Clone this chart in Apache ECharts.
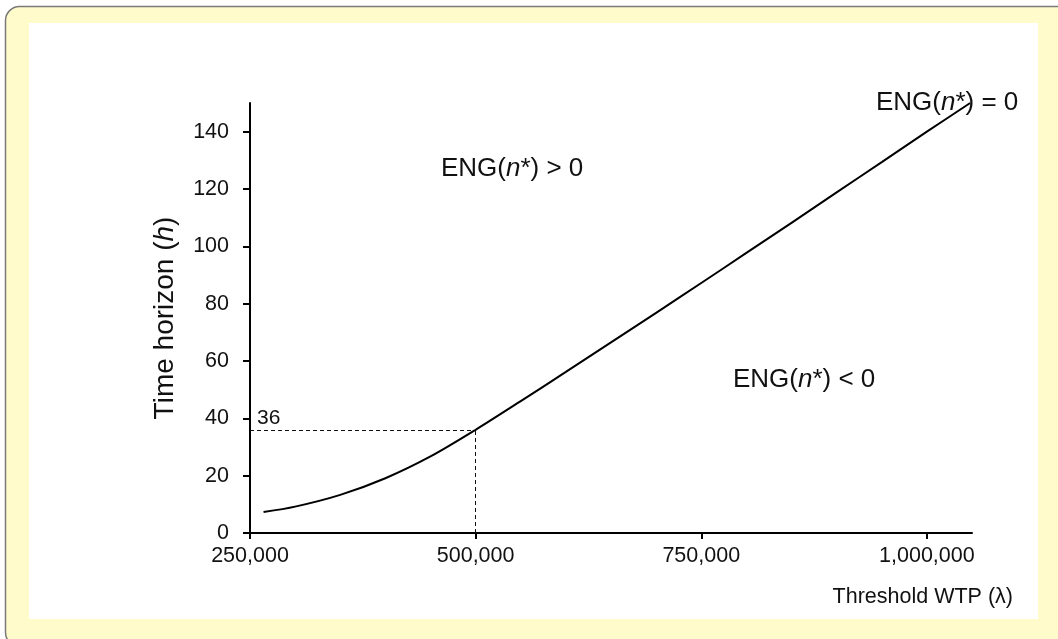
<!DOCTYPE html>
<html>
<head>
<meta charset="utf-8">
<script src="https://cdn.jsdelivr.net/npm/echarts@6/dist/echarts.min.js"></script>
<style>
html,body{margin:0;padding:0;background:#ffffff;}
#chart{width:1058px;height:639px;}
</style>
</head>
<body>
<div id="chart"></div>
<script>
// ---- data ----
const lambdaValues = [265000, 300000, 350000, 400000, 450000, 500000, 550000, 600000, 650000, 700000, 750000, 800000, 850000, 900000, 950000, 1000000, 1048000];
const horizonValues = [7.3, 9.2, 13.3, 19.1, 26.7, 36, 46, 56.2, 66.5, 76.8, 87.2, 97.7, 108.2, 118.8, 129.4, 140, 150];
const xTickValues = [250000, 500000, 750000, 1000000];
const yTickValues = [0, 20, 40, 60, 80, 100, 120, 140];
const refPoint = [500000, 36];
const refLabel = '36';

const FONT = '"Liberation Sans", Arial, sans-serif';
const chart = echarts.init(document.getElementById('chart'), null, {renderer: 'canvas'});

const engRichStyle = {
  a: {fontFamily: FONT, fontSize: 26, fill: '#111'},
  i: {fontFamily: FONT, fontSize: 26, fontStyle: 'italic', fill: '#111'}
};

const option = {
  animation: false,
  backgroundColor: 'transparent',
  graphic: [
    {type: 'rect', z: -10, silent: true,
     shape: {x: 5.5, y: 6.5, width: 1100, height: 640, r: [14, 0, 0, 14]},
     style: {fill: '#FFFBCA', stroke: '#7a7a7a', lineWidth: 1.5}},
    {type: 'rect', z: -9, silent: true,
     shape: {x: 29, y: 23, width: 1009, height: 596},
     style: {fill: '#ffffff'}},
    {type: 'text', left: 441, top: 156, z: 10,
     style: {text: '{a|ENG(}{i|n}{a|*) > 0}', rich: engRichStyle}},
    {type: 'text', left: 733, top: 367, z: 10,
     style: {text: '{a|ENG(}{i|n}{a|*) < 0}', rich: engRichStyle}},
    {type: 'text', left: 876, top: 90, z: 10,
     style: {text: '{a|ENG(}{i|n}{a|*) = 0}', rich: engRichStyle}},
    {type: 'text', right: 1058 - 1013, top: 586, z: 10,
     style: {text: 'Threshold WTP (λ)', fontFamily: FONT, fontSize: 21.5, fill: '#111'}}
  ],
  grid: {left: 250, right: 86, top: 103, bottom: 106, containLabel: false},
  xAxis: {
    type: 'value', min: 250000, max: 1050000, interval: 250000,
    splitLine: {show: false},
    axisLine: {show: true, onZero: false, lineStyle: {color: '#000', width: 2}},
    axisTick: {show: true, length: 6, customValues: xTickValues, lineStyle: {color: '#000', width: 2}},
    axisLabel: {customValues: xTickValues, margin: 12, fontFamily: FONT, fontSize: 21.5, color: '#111',
      formatter: v => Number(v).toLocaleString('en-US')}
  },
  yAxis: {
    type: 'value', min: 0, max: 150, interval: 20,
    name: '{a|Time horizon (}{i|h}{a|)}',
    nameLocation: 'middle', nameGap: 71, nameRotate: 90,
    nameTextStyle: {rich: {
      a: {fontFamily: FONT, fontSize: 28, color: '#111'},
      i: {fontFamily: FONT, fontSize: 28, fontStyle: 'italic', color: '#111'}
    }},
    splitLine: {show: false},
    axisLine: {show: true, lineStyle: {color: '#000', width: 2}},
    axisTick: {show: true, length: 7, customValues: yTickValues, lineStyle: {color: '#000', width: 2}},
    axisLabel: {customValues: yTickValues, margin: 21, fontFamily: FONT, fontSize: 21.5, color: '#111'}
  },
  series: [{
    type: 'line',
    data: lambdaValues.map((x, i) => [x, horizonValues[i]]),
    showSymbol: false,
    smooth: 0.3,
    lineStyle: {color: '#000', width: 2},
    markLine: {
      silent: true, symbol: 'none',
      lineStyle: {color: '#111', width: 1, type: [4, 3]},
      data: [
        [{coord: [250000, refPoint[1]], label: {show: true, position: 'insideStartTop', formatter: refLabel,
           fontFamily: FONT, fontSize: 21, color: '#111', distance: [7, 1]}},
         {coord: [refPoint[0], refPoint[1]]}],
        [{coord: [refPoint[0], 0], label: {show: false}}, {coord: [refPoint[0], refPoint[1]]}]
      ]
    }
  }]
};
chart.setOption(option);
</script>
</body>
</html>
